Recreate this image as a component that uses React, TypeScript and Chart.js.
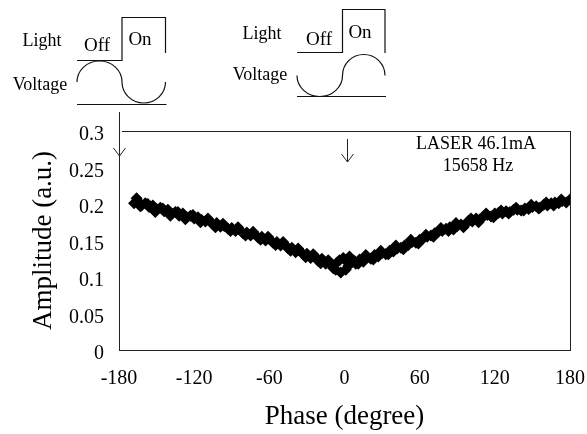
import { useEffect, useRef } from "react";
import { Chart, registerables } from "chart.js";

Chart.register(...registerables);

// Lock-in amplitude versus modulation phase (LASER 46.1 mA, 15658 Hz)
const phaseDeg = [
  -166, -168, -165, -162, -159, -156, -153, -150, -147, -144,
  -141, -138, -135, -132, -129, -126, -123, -120, -117, -114,
  -111, -108, -105, -102, -99, -96, -93, -90, -87, -84,
  -81, -78, -75, -72, -69, -66, -63, -60, -57, -54,
  -51, -48, -45, -42, -39, -36, -33, -30, -27, -24,
  -21, -18, -15, -12, -9, -6, -3, 0, 3, 6,
  9, 12, 15, 18, 21, 24, 27, 30, 33, 36,
  39, 42, 45, 48, 51, 54, 57, 60, 63, 66,
  69, 72, 75, 78, 81, 84, 87, 90, 93, 96,
  99, 102, 105, 108, 111, 114, 117, 120, 123, 126,
  129, 132, 135, 138, 141, 144, 147, 150, 153, 156,
  159, 162, 165, 168, 171, 174, 177, 180,
];

const amplitude = [
  0.208, 0.201, 0.204, 0.198, 0.201, 0.196, 0.198, 0.193, 0.195, 0.19,
  0.192, 0.187, 0.189, 0.184, 0.187, 0.182, 0.184, 0.18, 0.182, 0.178,
  0.176, 0.177, 0.172, 0.174, 0.169, 0.17, 0.166, 0.167, 0.163, 0.165,
  0.16, 0.161, 0.157, 0.159, 0.154, 0.155, 0.15, 0.152, 0.147, 0.148,
  0.143, 0.145, 0.139, 0.14, 0.134, 0.136, 0.131, 0.132, 0.126, 0.129,
  0.122, 0.125, 0.118, 0.121, 0.112, 0.12, 0.106, 0.124, 0.115, 0.121,
  0.118, 0.124, 0.121, 0.127, 0.125, 0.13, 0.128, 0.133, 0.131, 0.136,
  0.135, 0.139, 0.14, 0.143, 0.144, 0.148, 0.147, 0.151, 0.153, 0.155,
  0.157, 0.16, 0.162, 0.163, 0.166, 0.168, 0.165, 0.17, 0.172, 0.171,
  0.177, 0.176, 0.18, 0.179, 0.183, 0.185, 0.183, 0.187, 0.188, 0.187,
  0.19, 0.189, 0.192, 0.192, 0.191, 0.194, 0.193, 0.196, 0.197, 0.195,
  0.199, 0.198, 0.201, 0.202, 0.201, 0.204, 0.202, 0.206,
];

// second sweep, interleaved with the first
const sweepBPhaseDeg = [
  -163, -157, -151, -145, -139, -133, -127, -121, -115, -109,
  -103, -97, -91, -85, -79, -73, -67, -61, -55, -49,
  -43, -37, -31, -25, -19, -13, -7, -1, 5, 11,
  17, 23, 29, 35, 41, 47, 53, 59, 65, 71,
  77, 83, 89, 95, 101, 107, 113, 119, 125, 131,
  137, 143, 149, 155, 161, 167, 173,
];

const sweepBAmplitude = [
  0.197, 0.2, 0.189, 0.194, 0.184, 0.189, 0.179, 0.185, 0.175, 0.18,
  0.168, 0.173, 0.163, 0.168, 0.157, 0.162, 0.151, 0.155, 0.144, 0.148,
  0.136, 0.139, 0.127, 0.131, 0.119, 0.123, 0.11, 0.126, 0.125, 0.118,
  0.13, 0.124, 0.136, 0.131, 0.143, 0.138, 0.151, 0.146, 0.158, 0.155,
  0.167, 0.163, 0.174, 0.168, 0.18, 0.175, 0.187, 0.182, 0.191, 0.187,
  0.195, 0.191, 0.199, 0.194, 0.202, 0.198, 0.206,
];

// a few repeated readings around the minimum
const repeatPhaseDeg = [-10, -4, 1, 4, 8];
const repeatAmplitude = [0.116, 0.123, 0.11, 0.128, 0.122];

const xTicks = [-180, -120, -60, 0, 60, 120, 180];
const yTicks = [0, 0.05, 0.1, 0.15, 0.2, 0.25, 0.3];

const xTitle = "Phase (degree)";
const yTitle = "Amplitude (a.u.)";
const infoLines = ["LASER 46.1mA", "15658 Hz"];
const markerPhases = [-180, 2];

const SERIF = "'Liberation Serif', 'Times New Roman', serif";

type Sketch = {
  lightX: number; lightY: number;
  voltX: number; voltY: number;
  offX: number; offY: number;
  onX: number; onY: number;
  x0: number; xm: number; x1: number;
  lowY: number; highY: number; onDropY: number;
  midY: number; baseY: number;
  r1: number; r2: number; ry: number;
  humpFirst: boolean;
};

const sketches: Sketch[] = [
  {
    lightX: 42, lightY: 41, voltX: 40, voltY: 85, offX: 97, offY: 46, onX: 140, onY: 40,
    x0: 77, xm: 122, x1: 165.5, lowY: 60.5, highY: 17.5, onDropY: 53,
    midY: 82, baseY: 104.5, r1: 22.5, r2: 21.75, ry: 21, humpFirst: true,
  },
  {
    lightX: 262, lightY: 34, voltX: 260, voltY: 75, offX: 319, offY: 40, onX: 360, onY: 33,
    x0: 297, xm: 342.5, x1: 385, lowY: 52.5, highY: 9.5, onDropY: 53,
    midY: 75.5, baseY: 96.5, r1: 22.75, r2: 21.25, ry: 21, humpFirst: false,
  },
];

function drawSketch(ctx: CanvasRenderingContext2D, s: Sketch) {
  ctx.save();
  ctx.strokeStyle = "#111";
  ctx.lineWidth = 1.2;
  ctx.fillStyle = "#000";
  ctx.textAlign = "center";
  ctx.textBaseline = "middle";
  ctx.font = `18px ${SERIF}`;
  ctx.fillText("Light", s.lightX, s.lightY);
  ctx.fillText("Voltage", s.voltX, s.voltY);
  ctx.font = `19px ${SERIF}`;
  ctx.fillText("Off", s.offX, s.offY);
  ctx.fillText("On", s.onX, s.onY);

  // light: off then on step
  ctx.beginPath();
  ctx.moveTo(s.x0, s.lowY);
  ctx.lineTo(s.xm, s.lowY);
  ctx.lineTo(s.xm, s.highY);
  ctx.lineTo(s.x1, s.highY);
  ctx.lineTo(s.x1, s.onDropY);
  ctx.stroke();

  // voltage: one period drawn as two half arcs
  const c1 = s.x0 + s.r1;
  const c2 = s.xm + s.r2;
  ctx.beginPath();
  if (s.humpFirst) {
    ctx.ellipse(c1, s.midY, s.r1, s.ry, 0, Math.PI, 2 * Math.PI, false);
    ctx.ellipse(c2, s.midY, s.r2, s.ry, 0, Math.PI, 0, true);
  } else {
    ctx.ellipse(c1, s.midY, s.r1, s.ry, 0, Math.PI, 0, true);
    ctx.ellipse(c2, s.midY, s.r2, s.ry, 0, Math.PI, 2 * Math.PI, false);
  }
  ctx.stroke();

  ctx.beginPath();
  ctx.moveTo(s.x0, s.baseY);
  ctx.lineTo(s.x1 + 1, s.baseY);
  ctx.stroke();
  ctx.restore();
}

const decorations = {
  id: "decorations",
  afterDraw(chart: any) {
    const { ctx, chartArea } = chart;
    const { left, top, right, bottom } = chartArea;
    const xs = chart.scales.x;
    ctx.save();
    ctx.strokeStyle = "#222";
    ctx.lineWidth = 1;
    ctx.beginPath();
    ctx.moveTo(left + 3, Math.round(top) + 0.5);
    ctx.lineTo(right, Math.round(top) + 0.5);
    ctx.moveTo(Math.round(right) + 0.5, top);
    ctx.lineTo(Math.round(right) + 0.5, bottom);
    ctx.stroke();

    // phase markers (arrows)
    const arrowSpans = [
      [112, 156],
      [139, 162],
    ];
    markerPhases.forEach((p, i) => {
      const px = Math.round(xs.getPixelForValue(p)) + 0.5;
      const [y0, y1] = arrowSpans[i];
      ctx.beginPath();
      ctx.moveTo(px, y0);
      ctx.lineTo(px, y1);
      ctx.moveTo(px - 6, y1 - 8);
      ctx.lineTo(px, y1);
      ctx.lineTo(px + 6, y1 - 8);
      ctx.stroke();
    });

    ctx.fillStyle = "#000";
    ctx.textAlign = "center";
    ctx.textBaseline = "middle";
    ctx.font = `18px ${SERIF}`;
    ctx.fillText(infoLines[0], 476, 144);
    ctx.fillText(infoLines[1], 478, 166);
    ctx.restore();

    sketches.forEach((s) => drawSketch(ctx, s));
  },
};

export default function App() {
  const canvasRef = useRef<HTMLCanvasElement | null>(null);

  useEffect(() => {
    document.body.style.margin = "0";
    const canvas = canvasRef.current;
    if (!canvas) return;

    const toPoints = (xs: number[], ys: number[]) => xs.map((p, i) => ({ x: p, y: ys[i] }));
    const markerStyle = {
      pointStyle: "rectRot" as const,
      pointRadius: 6,
      pointBackgroundColor: "#000",
      pointBorderColor: "#000",
      pointBorderWidth: 0,
    };

    const chart = new Chart(canvas, {
      type: "scatter",
      data: {
        datasets: [
          { data: toPoints(phaseDeg, amplitude), ...markerStyle },
          { data: toPoints(sweepBPhaseDeg, sweepBAmplitude), ...markerStyle },
          { data: toPoints(repeatPhaseDeg, repeatAmplitude), ...markerStyle },
        ],
      },
      options: {
        animation: false,
        responsive: false,
        devicePixelRatio: 1,
        layout: { padding: { left: 0, top: 131, right: 17, bottom: 0 } },
        plugins: {
          legend: { display: false },
          tooltip: { enabled: false },
        },
        scales: {
          x: {
            type: "linear",
            min: -180,
            max: 180,
            afterFit: (s: any) => {
              s.height = 84;
              s.paddingLeft = 0;
              s.paddingRight = 0;
            },
            afterBuildTicks: (s: any) => {
              s.ticks = xTicks.map((v) => ({ value: v }));
            },
            grid: { display: false, drawTicks: false },
            border: { display: true, color: "#222", width: 1 },
            ticks: {
              color: "#000",
              padding: 17,
              maxRotation: 0,
              font: { family: SERIF, size: 20 },
              callback: (v: any) => String(v),
            },
            title: {
              display: true,
              text: xTitle,
              color: "#000",
              font: { family: SERIF, size: 27 },
              padding: { top: 0, bottom: 1 },
            },
          },
          y: {
            type: "linear",
            min: 0,
            max: 0.3,
            afterFit: (s: any) => {
              s.width = 119;
              s.paddingTop = 0;
              s.paddingBottom = 0;
            },
            afterBuildTicks: (s: any) => {
              s.ticks = yTicks.map((v) => ({ value: v }));
            },
            grid: { display: false, drawTicks: false },
            border: { display: true, color: "#222", width: 1 },
            ticks: {
              color: "#000",
              padding: 15,
              labelOffset: 4,
              font: { family: SERIF, size: 20 },
              callback: (v: any) => String(v),
            },
            title: {
              display: true,
              text: yTitle,
              color: "#000",
              font: { family: SERIF, size: 27 },
              padding: { top: 28, bottom: 0 },
            },
          },
        },
      },
      plugins: [decorations],
    });

    return () => chart.destroy();
  }, []);

  return (
    <div style={{ width: 587, height: 434, background: "#fff" }}>
      <canvas ref={canvasRef} width={587} height={434} style={{ display: "block" }} />
    </div>
  );
}
